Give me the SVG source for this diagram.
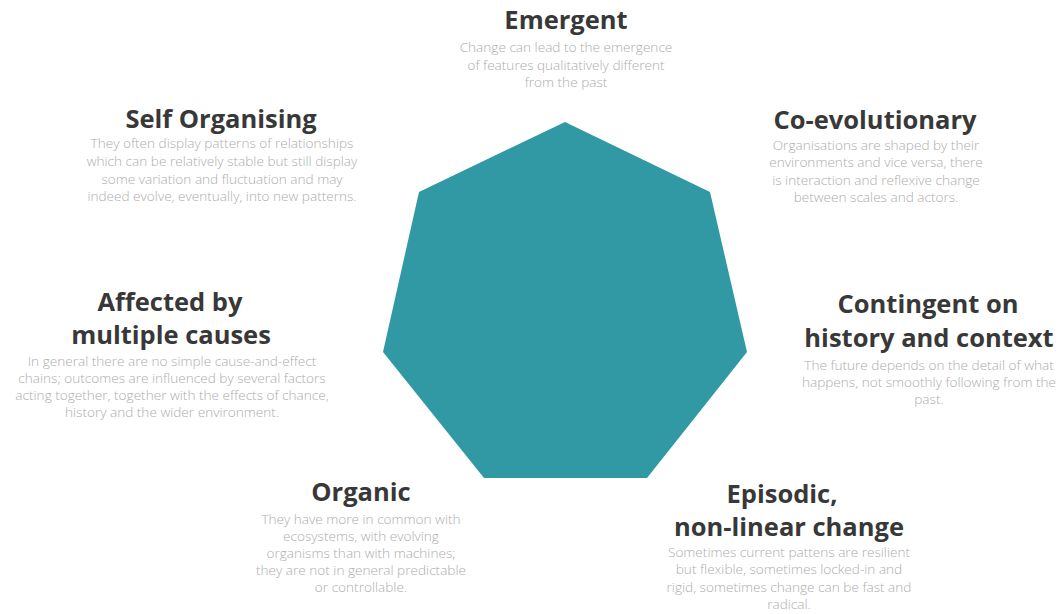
<svg xmlns="http://www.w3.org/2000/svg" width="1060" height="614" viewBox="0 0 1060 614">
  <style>
    .title { font-family: "Open Sans", "Liberation Sans", sans-serif; font-weight: 700; font-size: 25.5px; fill: #383838; text-anchor: middle; }
    .desc { font-family: "Open Sans", "Liberation Sans", sans-serif; font-weight: 300; font-size: 13.6px; fill: #adadad; text-anchor: middle; }
    .hept { fill: #3199a3; }
  </style>
  <rect width="1060" height="614" fill="#ffffff"/>

  <g id="heptagon">
    <polygon class="hept" points="565,122 710,192 747,352 647,478 484,478 383,352 419,192"/>
  </g>

  <g id="emergent">
    <text class="title" x="566" y="29">Emergent</text>
    <text class="desc" x="566" y="52">Change can lead to the emergence</text>
    <text class="desc" x="566" y="69.5">of features qualitatively different</text>
    <text class="desc" x="566" y="87">from the past</text>
  </g>

  <g id="self-organising">
    <text class="title" x="221" y="128">Self Organising</text>
    <text class="desc" x="222" y="148">They often display patterns of relationships</text>
    <text class="desc" x="222" y="166">which can be relatively stable but still display</text>
    <text class="desc" x="222" y="184">some variation and fluctuation and may</text>
    <text class="desc" x="222" y="201">indeed evolve, eventually, into new patterns.</text>
  </g>

  <g id="co-evolutionary">
    <text class="title" x="875" y="129">Co-evolutionary</text>
    <text class="desc" x="876" y="150">Organisations are shaped by their</text>
    <text class="desc" x="876" y="167">environments and vice versa, there</text>
    <text class="desc" x="876" y="185">is interaction and reflexive change</text>
    <text class="desc" x="876" y="202">between scales and actors.</text>
  </g>

  <g id="multiple-causes">
    <text class="title" x="170" y="311">Affected by</text>
    <text class="title" x="171" y="344">multiple causes</text>
    <text class="desc" x="172" y="366">In general there are no simple cause-and-effect</text>
    <text class="desc" x="172" y="383">chains; outcomes are influenced by several factors</text>
    <text class="desc" x="172" y="400">acting together, together with the effects of chance,</text>
    <text class="desc" x="172" y="417">history and the wider environment.</text>
  </g>

  <g id="contingent">
    <text class="title" x="928" y="313">Contingent on</text>
    <text class="title" x="929" y="347">history and context</text>
    <text class="desc" x="929" y="370">The future depends on the detail of what</text>
    <text class="desc" x="929" y="387">happens, not smoothly following from the</text>
    <text class="desc" x="929" y="404">past.</text>
  </g>

  <g id="organic">
    <text class="title" x="361" y="501">Organic</text>
    <text class="desc" x="361" y="524">They have more in common with</text>
    <text class="desc" x="361" y="541">ecosystems, with evolving</text>
    <text class="desc" x="361" y="558">organisms than with machines;</text>
    <text class="desc" x="361" y="575">they are not in general predictable</text>
    <text class="desc" x="361" y="592">or controllable.</text>
  </g>

  <g id="episodic">
    <text class="title" x="782" y="503">Episodic,</text>
    <text class="title" x="789" y="536">non-linear change</text>
    <text class="desc" x="789" y="557">Sometimes current pattens are resilient</text>
    <text class="desc" x="789" y="574">but flexible, sometimes locked-in and</text>
    <text class="desc" x="789" y="592">rigid, sometimes change can be fast and</text>
    <text class="desc" x="789" y="609">radical.</text>
  </g>
</svg>
